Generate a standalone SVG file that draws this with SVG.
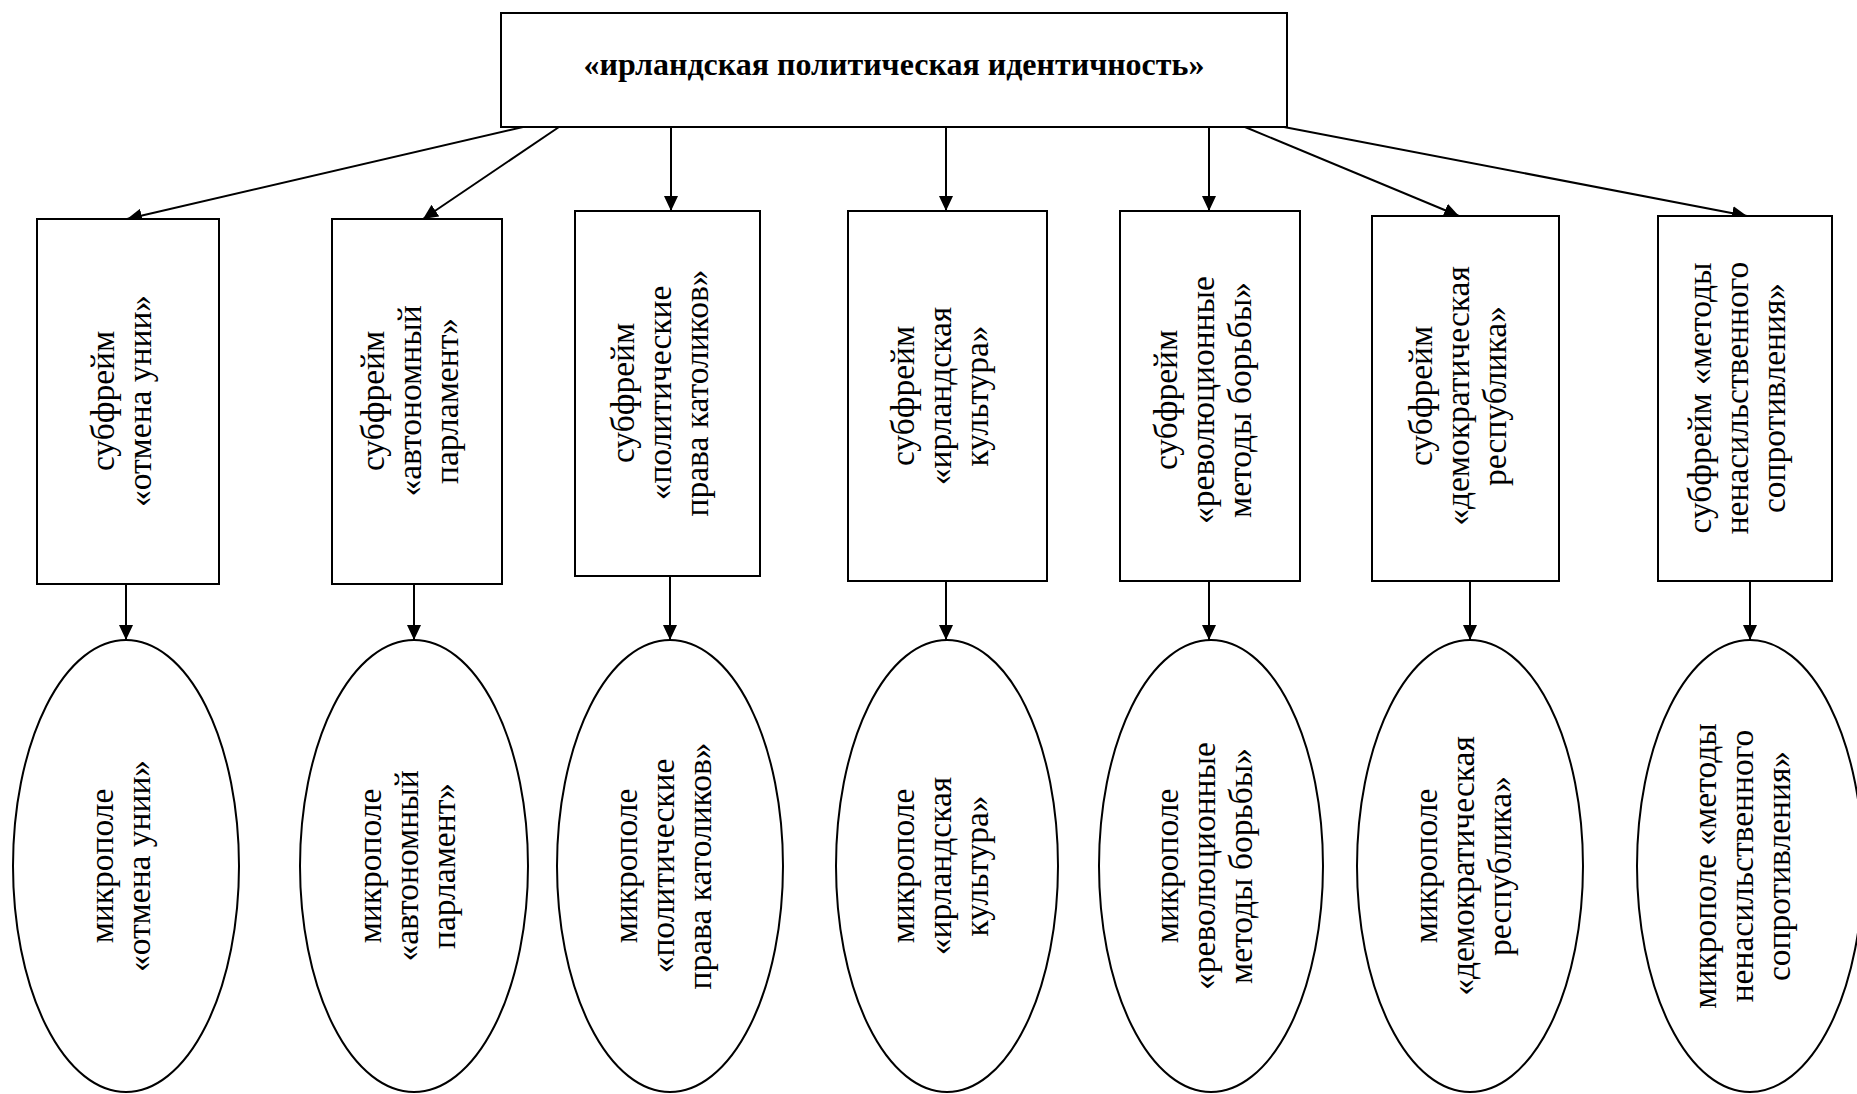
<svg xmlns="http://www.w3.org/2000/svg" width="1857" height="1094" viewBox="0 0 1857 1094">
<style>
.box{fill:#fff;stroke:#000;stroke-width:2}
.ell{fill:#fff;stroke:#000;stroke-width:2}
.t{font-family:"Liberation Serif","Times New Roman",serif;font-size:33.5px;fill:#000;text-anchor:middle}
.title{font-family:"Liberation Serif","Times New Roman",serif;font-size:32px;font-weight:bold;fill:#000;text-anchor:middle}
.c{stroke:#000;stroke-width:2;fill:none;marker-end:url(#ah)}
</style>
<defs>
<marker id="ah" markerUnits="userSpaceOnUse" markerWidth="15" markerHeight="14" refX="15" refY="7" orient="auto">
<path d="M0,0 L15,7 L0,14 z" fill="#000"/>
</marker>
</defs>
<rect width="1857" height="1094" fill="#fff"/>
<g id="connectors">
<line class="c" x1="523" y1="127" x2="127" y2="219"/>
<line class="c" x1="559" y1="127" x2="423" y2="219"/>
<line class="c" x1="671" y1="127" x2="671" y2="211"/>
<line class="c" x1="946" y1="127" x2="946" y2="211"/>
<line class="c" x1="1209" y1="127" x2="1209" y2="211"/>
<line class="c" x1="1245" y1="127" x2="1459" y2="216"/>
<line class="c" x1="1284" y1="127" x2="1747" y2="216"/>
<line class="c" x1="126" y1="584" x2="126" y2="640"/>
<line class="c" x1="414" y1="584" x2="414" y2="640"/>
<line class="c" x1="670" y1="576" x2="670" y2="640"/>
<line class="c" x1="946" y1="581" x2="946" y2="640"/>
<line class="c" x1="1209" y1="581" x2="1209" y2="640"/>
<line class="c" x1="1470" y1="581" x2="1470" y2="640"/>
<line class="c" x1="1750" y1="581" x2="1750" y2="640"/>
</g>
<g id="root">
<rect class="box" x="501" y="13" width="786" height="114"/>
<text class="title" x="894" y="75">«ирландская политическая идентичность»</text>
</g>
<g id="sf1">
<rect class="box" x="37" y="219" width="182" height="365"/>
<text class="t" transform="translate(120,401) rotate(-90)"><tspan x="0" y="-6.5">субфрейм</tspan><tspan x="0" y="30.5">«отмена унии»</tspan></text>
</g>
<g id="sf2">
<rect class="box" x="332" y="219" width="170" height="365"/>
<text class="t" transform="translate(409,401) rotate(-90)"><tspan x="0" y="-25">субфрейм</tspan><tspan x="0" y="12">«автономный</tspan><tspan x="0" y="49">парламент»</tspan></text>
</g>
<g id="sf3">
<rect class="box" x="575" y="211" width="185" height="365"/>
<text class="t" transform="translate(659,393) rotate(-90)"><tspan x="0" y="-25">субфрейм</tspan><tspan x="0" y="12">«политические</tspan><tspan x="0" y="49">права католиков»</tspan></text>
</g>
<g id="sf4">
<rect class="box" x="848" y="211" width="199" height="370"/>
<text class="t" transform="translate(939,396) rotate(-90)"><tspan x="0" y="-25">субфрейм</tspan><tspan x="0" y="12">«ирландская</tspan><tspan x="0" y="49">культура»</tspan></text>
</g>
<g id="sf5">
<rect class="box" x="1120" y="211" width="180" height="370"/>
<text class="t" transform="translate(1202,400) rotate(-90)"><tspan x="0" y="-25">субфрейм</tspan><tspan x="0" y="12">«революционные</tspan><tspan x="0" y="49">методы борьбы»</tspan></text>
</g>
<g id="sf6">
<rect class="box" x="1372" y="216" width="187" height="365"/>
<text class="t" transform="translate(1457,396) rotate(-90)"><tspan x="0" y="-25">субфрейм</tspan><tspan x="0" y="12">«демократическая</tspan><tspan x="0" y="49">республика»</tspan></text>
</g>
<g id="sf7">
<rect class="box" x="1658" y="216" width="174" height="365"/>
<text class="t" transform="translate(1736,398) rotate(-90)"><tspan x="0" y="-25">субфрейм «методы</tspan><tspan x="0" y="12">ненасильственного</tspan><tspan x="0" y="49">сопротивления»</tspan></text>
</g>
<g id="mp1">
<ellipse class="ell" cx="126" cy="866" rx="113" ry="226"/>
<text class="t" transform="translate(119,866) rotate(-90)"><tspan x="0" y="-6.5">микрополе</tspan><tspan x="0" y="30.5">«отмена унии»</tspan></text>
</g>
<g id="mp2">
<ellipse class="ell" cx="414" cy="866" rx="114" ry="226"/>
<text class="t" transform="translate(406,866) rotate(-90)"><tspan x="0" y="-25">микрополе</tspan><tspan x="0" y="12">«автономный</tspan><tspan x="0" y="49">парламент»</tspan></text>
</g>
<g id="mp3">
<ellipse class="ell" cx="670" cy="866" rx="113" ry="226"/>
<text class="t" transform="translate(662,866) rotate(-90)"><tspan x="0" y="-25">микрополе</tspan><tspan x="0" y="12">«политические</tspan><tspan x="0" y="49">права католиков»</tspan></text>
</g>
<g id="mp4">
<ellipse class="ell" cx="947" cy="866" rx="111" ry="226"/>
<text class="t" transform="translate(939,866) rotate(-90)"><tspan x="0" y="-25">микрополе</tspan><tspan x="0" y="12">«ирландская</tspan><tspan x="0" y="49">культура»</tspan></text>
</g>
<g id="mp5">
<ellipse class="ell" cx="1211" cy="866" rx="112" ry="226"/>
<text class="t" transform="translate(1203,866) rotate(-90)"><tspan x="0" y="-25">микрополе</tspan><tspan x="0" y="12">«революционные</tspan><tspan x="0" y="49">методы борьбы»</tspan></text>
</g>
<g id="mp6">
<ellipse class="ell" cx="1470" cy="866" rx="113" ry="226"/>
<text class="t" transform="translate(1462,866) rotate(-90)"><tspan x="0" y="-25">микрополе</tspan><tspan x="0" y="12">«демократическая</tspan><tspan x="0" y="49">республика»</tspan></text>
</g>
<g id="mp7">
<ellipse class="ell" cx="1750" cy="866" rx="113" ry="226"/>
<text class="t" transform="translate(1741,866) rotate(-90)"><tspan x="0" y="-25">микрополе «методы</tspan><tspan x="0" y="12">ненасильственного</tspan><tspan x="0" y="49">сопротивления»</tspan></text>
</g>
</svg>
